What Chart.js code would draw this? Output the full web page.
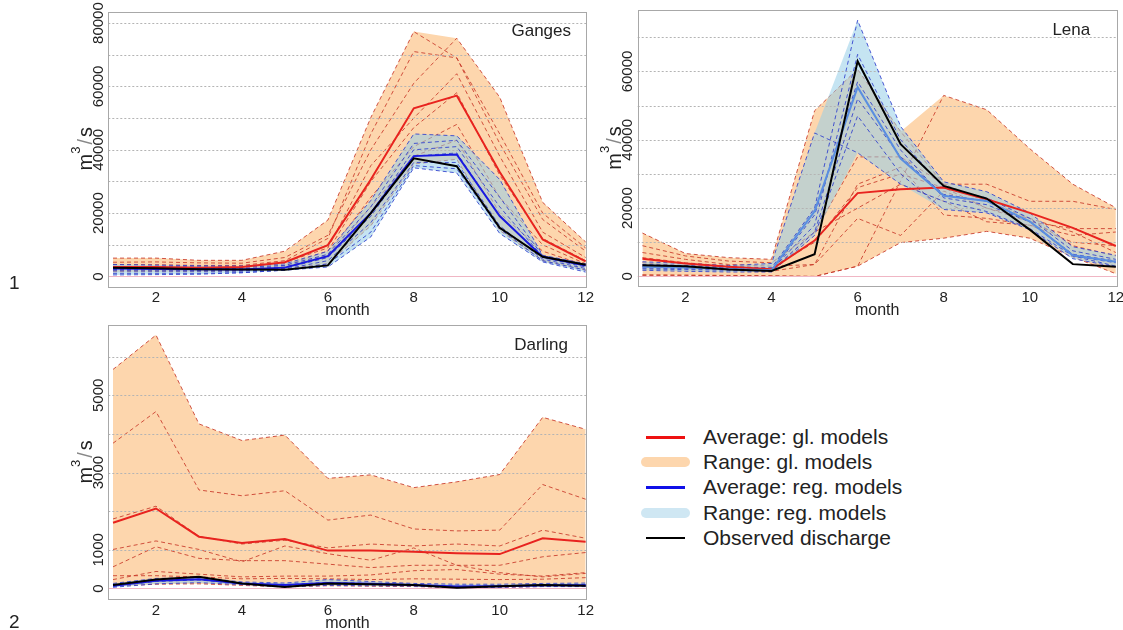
<!DOCTYPE html>
<html>
<head>
<meta charset="utf-8">
<script src="https://cdn.jsdelivr.net/npm/chart.js@4/dist/chart.umd.min.js"></script>
<style>
  html, body { margin: 0; padding: 0; background: #fff; }
  body { width: 1123px; height: 630px; position: relative; overflow: hidden;
         font-family: "Liberation Sans", Arial, sans-serif; color: #222; }
  canvas { position: absolute; }
  .rowno { position: absolute; font-size: 19px; line-height: 22px; color: #222; }
  .lg-item { position: absolute; left: 640px; width: 320px; height: 26px; }
  .lg-line { position: absolute; left: 6px; top: 12px; width: 39px; height: 2.5px; }
  .lg-band { position: absolute; left: 1px; top: 8px; width: 49px; height: 10px; border-radius: 5px; }
  .lg-text { position: absolute; left: 63px; top: 0; font-size: 21px; line-height: 26px; white-space: nowrap; color: #222; }
</style>
</head>
<body>
<canvas id="ganges" width="600" height="320" style="left:0;top:0;width:600px;height:320px"></canvas>
<canvas id="lena" width="523" height="320" style="left:600px;top:0;width:523px;height:320px"></canvas>
<canvas id="darling" width="600" height="310" style="left:0;top:320px;width:600px;height:310px"></canvas>
<div class="rowno" style="left:9px;top:272px">1</div>
<div class="rowno" style="left:9px;top:611px">2</div>
<div id="legend"></div>
<script>
// ---- data: mean monthly discharge, m3/s ----
const months = [1, 2, 3, 4, 5, 6, 7, 8, 9, 10, 11, 12];
const monthTicks = [2, 4, 6, 8, 10, 12];

// Ganges
const gangesGlMax  = [5800, 5800, 5100, 5100, 8000, 17800, 50200, 77300, 75200, 56600, 23400, 10900];
const gangesGlMin  = [1500, 1500, 1500, 1700, 2500, 4000, 16000, 35500, 37000, 14500, 5000, 2000];
const gangesGlMean = [3000, 3000, 2800, 3000, 4500, 9900, 30600, 53100, 57100, 33000, 11700, 4800];
const gangesGlRuns = [
  [5800, 5800, 5100, 5100, 8000, 17800, 50200, 77300, 69000, 45000, 20000, 9000],
  [4500, 4600, 4300, 4200, 6000, 13000, 40000, 61000, 75200, 56600, 23400, 10900],
  [3800, 3700, 3500, 3500, 5000, 12000, 45000, 71000, 69000, 42000, 18000, 8000],
  [3000, 3000, 2900, 3000, 4500, 9000, 35000, 50000, 64000, 38000, 14000, 6000],
  [2500, 2500, 2400, 2500, 3500, 8000, 30000, 47000, 58000, 32000, 12000, 5000],
  [2000, 2000, 2000, 2200, 3000, 7000, 25000, 41000, 48000, 25000, 10000, 4000],
  [1800, 1800, 1800, 2000, 2800, 6000, 22000, 38000, 43000, 20000, 8000, 3500],
  [1500, 1500, 1500, 1700, 2500, 4000, 16000, 35500, 37000, 14500, 5000, 2000]
];
const gangesRegMax  = [3800, 3600, 3400, 3300, 4000, 8000, 24000, 45000, 44400, 30600, 6700, 4000];
const gangesRegMin  = [500, 600, 700, 1200, 2000, 3000, 12500, 34300, 32700, 13600, 4600, 1400];
const gangesRegMean = [2500, 2400, 2300, 2200, 2800, 6400, 20000, 38000, 38500, 19100, 6200, 3500];
const gangesRegRuns = [
  [3800, 3600, 3400, 3300, 4000, 8000, 24000, 45000, 44400, 30600, 6700, 4000],
  [3200, 3100, 3000, 2900, 3500, 7000, 22000, 42000, 43000, 25000, 6500, 3800],
  [2800, 2700, 2500, 2400, 3000, 6500, 20000, 40000, 41000, 22000, 6200, 3500],
  [2200, 2100, 2000, 2000, 2600, 6000, 19000, 38000, 39000, 19000, 6000, 3000],
  [1800, 1700, 1700, 1700, 2300, 5000, 17000, 36000, 36000, 16000, 5500, 2500],
  [1000, 1000, 1000, 1200, 2000, 4000, 14000, 35000, 34000, 15000, 5000, 2000],
  [500, 600, 700, 1200, 2000, 3000, 12500, 34300, 32700, 13600, 4600, 1400]
];
const gangesObs = [2800, 2600, 2300, 2200, 2100, 3500, 20000, 37300, 34800, 15400, 6200, 3700];
const gangesGrid   = [10000, 20000, 30000, 40000, 50000, 60000, 70000, 80000];
const gangesLabels = [0, 20000, 40000, 60000, 80000];

// Lena
const lenaGlMax  = [12700, 6700, 5500, 5000, 48500, 60700, 42400, 53000, 48800, 37400, 27000, 20100];
const lenaGlMin  = [300, 300, 200, 100, 0, 3000, 9900, 11200, 13200, 11200, 5700, 800];
const lenaGlMean = [5200, 3800, 2800, 2100, 10500, 24400, 25500, 26000, 22600, 18600, 14200, 8900];
const lenaGlRuns = [
  [12700, 6700, 5500, 5000, 48500, 60700, 42400, 27000, 22000, 17000, 9000, 6000],
  [300, 300, 200, 100, 0, 3000, 28000, 53000, 48800, 37400, 27000, 20100],
  [9000, 6000, 4500, 4000, 13000, 35000, 35000, 27000, 27000, 22000, 22000, 19600],
  [7000, 5000, 3500, 3000, 3500, 27000, 32000, 18000, 17000, 15000, 12000, 13000],
  [500, 400, 300, 200, 0, 3000, 9900, 11200, 13200, 11200, 5700, 800],
  [4000, 3000, 2500, 2000, 13000, 20000, 27000, 22000, 16000, 15000, 10000, 9000],
  [3000, 2500, 2000, 1500, 3500, 17000, 12000, 25000, 20000, 17000, 13000, 7000],
  [5500, 4000, 3000, 2500, 10000, 26000, 30000, 26000, 20000, 16000, 14000, 14000]
];
const lenaRegMax  = [4300, 3800, 3200, 3800, 42000, 75000, 43900, 27700, 24800, 18600, 8700, 6200];
const lenaRegMin  = [1800, 1500, 1300, 1300, 12000, 36200, 27000, 19600, 18600, 13700, 5200, 2800];
const lenaRegMean = [2800, 2600, 2200, 1800, 19100, 55400, 34500, 23600, 22100, 16100, 6200, 4300];
const lenaRegRuns = [
  [4300, 3800, 3200, 3800, 42000, 36200, 27000, 22000, 19000, 14000, 6000, 3000],
  [3500, 3200, 2800, 2500, 20000, 75000, 43900, 27700, 24800, 18600, 8700, 6200],
  [3000, 2800, 2500, 2000, 15000, 65000, 40000, 26000, 23000, 17000, 7500, 5000],
  [2500, 2300, 2000, 1600, 13000, 52000, 35000, 24000, 22000, 16000, 6500, 4500],
  [1800, 1500, 1300, 1300, 12000, 47000, 30000, 19600, 18600, 13700, 5200, 2800],
  [2200, 2000, 1800, 1500, 18000, 57000, 37000, 23000, 21000, 16000, 6000, 4000]
];
const lenaObs = [3300, 3000, 2000, 1600, 6500, 63000, 38700, 26500, 22800, 13700, 3600, 2800];
const lenaGrid   = [10000, 20000, 30000, 40000, 50000, 60000, 70000];
const lenaLabels = [0, 20000, 40000, 60000];

// Darling
const darlingGlMax  = [5670, 6560, 4260, 3830, 3970, 2850, 2940, 2610, 2760, 2950, 4430, 4120];
const darlingGlMin  = [60, 110, 120, 80, 40, 70, 60, 50, 20, 30, 50, 50];
const darlingGlMean = [1700, 2070, 1340, 1180, 1280, 980, 980, 950, 910, 890, 1300, 1210];
const darlingGlRuns = [
  [5670, 6560, 4260, 3830, 3970, 2850, 2940, 2610, 2760, 2950, 4430, 4120],
  [3760, 4580, 2550, 2400, 2530, 1770, 1900, 1540, 1490, 1510, 2690, 2310],
  [1800, 2130, 1350, 1150, 1250, 1050, 1150, 1100, 1150, 1100, 1510, 1300],
  [1010, 1230, 1010, 690, 1100, 900, 730, 1050, 600, 410, 300, 390],
  [560, 1080, 780, 720, 720, 630, 540, 600, 600, 600, 820, 930],
  [230, 440, 370, 300, 320, 320, 350, 460, 490, 370, 320, 410],
  [330, 330, 300, 250, 260, 250, 230, 250, 240, 230, 240, 280],
  [60, 110, 120, 80, 40, 70, 60, 50, 20, 30, 50, 50]
];
const darlingRegMax  = [130, 260, 280, 170, 140, 230, 180, 130, 110, 110, 130, 140];
const darlingRegMin  = [30, 120, 150, 100, 40, 80, 70, 60, 20, 30, 50, 50];
const darlingRegMean = [70, 200, 240, 130, 90, 140, 120, 90, 50, 60, 80, 80];
const darlingRegRuns = [
  [130, 260, 280, 170, 140, 230, 180, 130, 110, 110, 130, 140],
  [100, 200, 240, 140, 100, 160, 130, 100, 60, 70, 90, 100],
  [60, 180, 220, 120, 70, 120, 100, 80, 40, 50, 70, 70],
  [30, 120, 150, 100, 40, 80, 70, 60, 20, 30, 50, 50]
];
const darlingObs = [90, 230, 300, 130, 40, 130, 110, 90, 20, 60, 90, 70];
const darlingGrid   = [1000, 2000, 3000, 4000, 5000, 6000];
const darlingLabels = [0, 1000, 3000, 5000];

// ---- styling ----
const FONT = '"Liberation Sans", Arial, sans-serif';
const GL_FILL = '#fdd6ad';
const REG_FILL = 'rgba(150, 205, 232, 0.55)';
const GL_RUN = 'rgba(200, 55, 40, 0.85)';
const REG_RUN = 'rgba(45, 60, 205, 0.85)';
const GL_MEAN = '#e8231f';
const OBS = '#000000';
const NONE = 'rgba(0,0,0,0)';

const pts = vals => months.map((m, i) => ({ x: m, y: vals[i] }));

function buildDatasets(p) {
  const layers = [];
  layers.push({ data: pts(p.glMax), borderColor: NONE, borderWidth: 0, fill: '+1', backgroundColor: GL_FILL });
  layers.push({ data: pts(p.glMin), borderColor: NONE, borderWidth: 0, fill: false });
  p.glRuns.forEach(r => layers.push({ data: pts(r), borderColor: GL_RUN, borderWidth: 1, borderDash: [4, 3], fill: false }));
  layers.push({ data: pts(p.regMax), borderColor: NONE, borderWidth: 0, fill: '+1', backgroundColor: REG_FILL, gridAfter: true });
  layers.push({ data: pts(p.regMin), borderColor: NONE, borderWidth: 0, fill: false });
  p.regRuns.forEach(r => layers.push({ data: pts(r), borderColor: REG_RUN, borderWidth: 1, borderDash: [4, 3], fill: false }));
  layers.push({ data: pts(p.glMean), borderColor: GL_MEAN, borderWidth: 2, fill: false });
  layers.push({ data: pts(p.regMean), borderColor: p.regColor, borderWidth: 2, fill: false });
  layers.push({ data: pts(p.obs), borderColor: OBS, borderWidth: 2, fill: false });
  // first layer is painted first (bottom), last one on top
  layers.forEach((d, i) => {
    d.order = layers.length - i;
    d.pointRadius = 0;
    d.tension = 0;
  });
  return layers;
}

const panelMeta = {};

const panelDecor = {
  id: 'panelDecor',
  afterDatasetDraw(chart, args) {
    const ds = chart.data.datasets[args.index];
    if (!ds.gridAfter) return;
    const meta = panelMeta[chart.canvas.id];
    const { ctx, chartArea: a } = chart;
    const y = chart.scales.y;
    ctx.save();
    ctx.lineWidth = 1;
    ctx.setLineDash([2, 2]);
    ctx.strokeStyle = '#b4b4b4';
    meta.grid.forEach(v => {
      const py = Math.round(y.getPixelForValue(v)) + 0.5;
      ctx.beginPath(); ctx.moveTo(a.left, py); ctx.lineTo(a.right, py); ctx.stroke();
    });
    ctx.setLineDash([]);
    ctx.strokeStyle = '#f0b6c4';
    const pz = Math.round(y.getPixelForValue(0)) + 0.5;
    ctx.beginPath(); ctx.moveTo(a.left, pz); ctx.lineTo(a.right, pz); ctx.stroke();
    ctx.restore();
  },
  afterDraw(chart) {
    const meta = panelMeta[chart.canvas.id];
    const { ctx, chartArea: a } = chart;
    const x = chart.scales.x, y = chart.scales.y;
    ctx.save();
    // plot frame
    ctx.strokeStyle = '#a8a8a8';
    ctx.lineWidth = 1;
    ctx.strokeRect(Math.round(a.left) + 0.5, Math.round(a.top) + 0.5,
                   Math.round(a.right - a.left), Math.round(a.bottom - a.top));
    ctx.fillStyle = '#222';
    // x tick labels
    ctx.font = '15px ' + FONT;
    ctx.textAlign = 'center';
    ctx.textBaseline = 'middle';
    monthTicks.forEach(v => ctx.fillText(String(v), x.getPixelForValue(v), a.bottom + 12));
    // x title
    ctx.font = '16px ' + FONT;
    ctx.fillText('month', (a.left + a.right) / 2, a.bottom + 25);
    // y tick labels, turned upright along the axis
    ctx.font = '15px ' + FONT;
    meta.labels.forEach(v => {
      ctx.save();
      ctx.translate(a.left - 9.5, y.getPixelForValue(v));
      ctx.rotate(-Math.PI / 2);
      ctx.fillText(String(v), 0, 0);
      ctx.restore();
    });
    // y title: m^3/s
    ctx.save();
    ctx.translate(a.left - 16.5, (a.top + a.bottom) / 2);
    ctx.rotate(-Math.PI / 2);
    ctx.textAlign = 'left';
    ctx.textBaseline = 'alphabetic';
    const big = '20px ' + FONT, small = '13px ' + FONT;
    ctx.font = big; const wm = ctx.measureText('m').width;
    ctx.font = small; const w3 = ctx.measureText('3').width;
    ctx.font = big; const wsl = ctx.measureText('/').width, ws = ctx.measureText('s').width;
    const total = wm + w3 + 2 + wsl + 2 + ws;
    let cx = -total / 2;
    ctx.font = big; ctx.fillText('m', cx, 0); cx += wm;
    ctx.font = small; ctx.fillText('3', cx, -12); cx += w3 + 2;
    ctx.font = big; ctx.fillStyle = '#888'; ctx.fillText('/', cx, 0); cx += wsl + 2;
    ctx.fillStyle = '#222'; ctx.fillText('s', cx, 0);
    ctx.restore();
    // river name
    ctx.font = '17px ' + FONT;
    ctx.textAlign = 'right';
    ctx.textBaseline = 'middle';
    ctx.fillText(meta.name, a.right - meta.nameInset, a.top + 20);
    ctx.restore();
  }
};

function makePanel(id, p) {
  panelMeta[id] = { name: p.name, grid: p.grid, labels: p.labels, nameInset: p.nameInset };
  new Chart(document.getElementById(id), {
    type: 'line',
    data: { datasets: buildDatasets(p) },
    options: {
      responsive: false,
      animation: false,
      events: [],
      layout: { padding: p.padding },
      plugins: { legend: { display: false }, tooltip: { enabled: false } },
      scales: {
        x: { type: 'linear', min: 0.89, max: 12.02, display: false },
        y: { type: 'linear', min: p.yMin, max: p.yMax, display: false }
      }
    },
    plugins: [panelDecor]
  });
}

makePanel('ganges', {
  name: 'Ganges', glMax: gangesGlMax, glMin: gangesGlMin, glMean: gangesGlMean, glRuns: gangesGlRuns,
  regMax: gangesRegMax, regMin: gangesRegMin, regMean: gangesRegMean, regRuns: gangesRegRuns,
  obs: gangesObs, grid: gangesGrid, labels: gangesLabels, regColor: '#1a1ae0',
  yMin: -3000, yMax: 83650, nameInset: 15.5,
  padding: { left: 108.3, top: 11.5, right: 13.5, bottom: 34 }
});
makePanel('lena', {
  name: 'Lena', glMax: lenaGlMax, glMin: lenaGlMin, glMean: lenaGlMean, glRuns: lenaGlRuns,
  regMax: lenaRegMax, regMin: lenaRegMin, regMean: lenaRegMean, regRuns: lenaRegRuns,
  obs: lenaObs, grid: lenaGrid, labels: lenaLabels, regColor: '#5a8ee0',
  yMin: -2800, yMax: 78000, nameInset: 26.5,
  padding: { left: 37.7, top: 10, right: 6.3, bottom: 34 }
});
makePanel('darling', {
  name: 'Darling', glMax: darlingGlMax, glMin: darlingGlMin, glMean: darlingGlMean, glRuns: darlingGlRuns,
  regMax: darlingRegMax, regMin: darlingRegMin, regMean: darlingRegMean, regRuns: darlingRegRuns,
  obs: darlingObs, grid: darlingGrid, labels: darlingLabels, regColor: '#1a1ae0',
  yMin: -265, yMax: 6820, nameInset: 18.5,
  padding: { left: 108.3, top: 5, right: 13.5, bottom: 31.3 }
});

// ---- legend ----
const legendItems = [
  { text: 'Average: gl. models', kind: 'line', color: '#ee1111' },
  { text: 'Range: gl. models', kind: 'band', color: GL_FILL },
  { text: 'Average: reg. models', kind: 'line', color: '#1010e8' },
  { text: 'Range: reg. models', kind: 'band', color: '#cfe7f3' },
  { text: 'Observed discharge', kind: 'line', color: '#000000' }
];
const legend = document.getElementById('legend');
legendItems.forEach((it, i) => {
  const row = document.createElement('div');
  row.className = 'lg-item';
  row.style.top = (424 + i * 25.2) + 'px';
  const sw = document.createElement('div');
  sw.className = it.kind === 'line' ? 'lg-line' : 'lg-band';
  sw.style.background = it.color;
  const tx = document.createElement('div');
  tx.className = 'lg-text';
  tx.textContent = it.text;
  row.appendChild(sw);
  row.appendChild(tx);
  legend.appendChild(row);
});
</script>
</body>
</html>
